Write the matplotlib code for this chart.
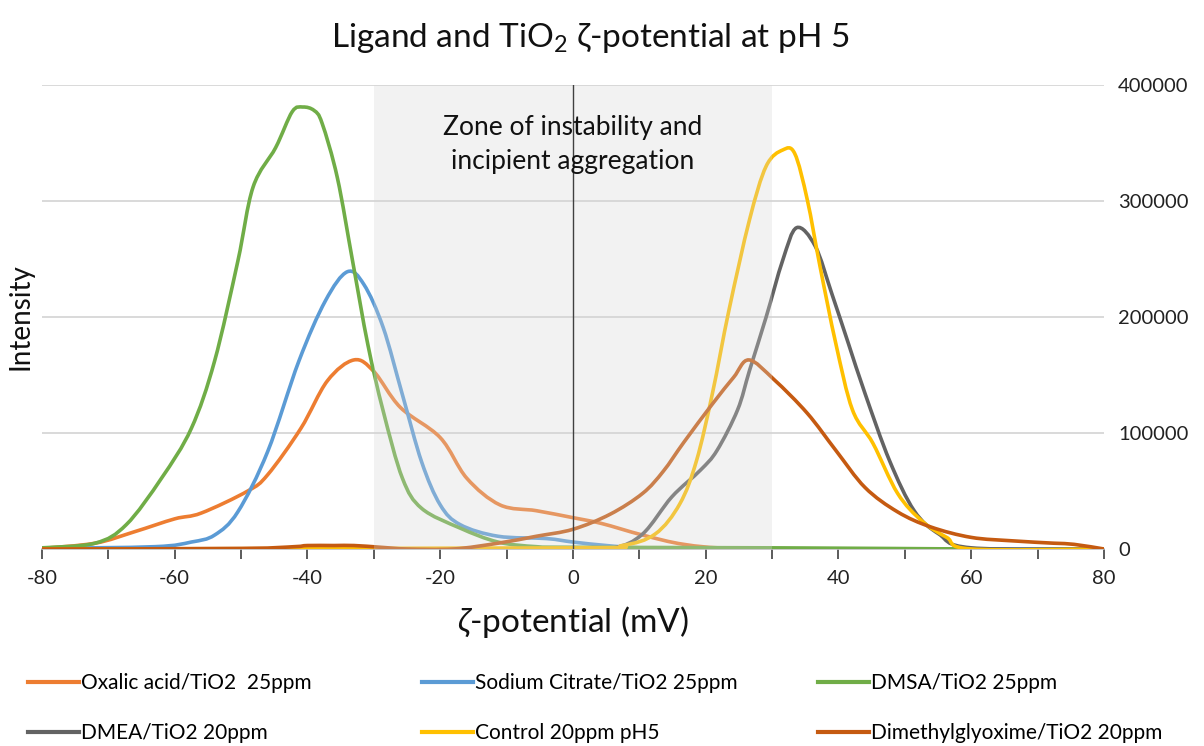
import numpy as np
import matplotlib
matplotlib.use('Agg')
import matplotlib.pyplot as plt
from matplotlib.path import Path
from matplotlib.patches import PathPatch, Rectangle
from matplotlib.lines import Line2D

# ---------------- data ----------------
series_names = ["Oxalic acid/TiO2  25ppm", "Sodium Citrate/TiO2 25ppm", "DMSA/TiO2 25ppm",
                "DMEA/TiO2 20ppm", "Control 20ppm pH5", "Dimethylglyoxime/TiO2 20ppm"]
series_colors = ["#ED7D31", "#5B9BD5", "#70AD47", "#636363", "#FFC000", "#C55A11"]

oxalic_x = [-80, -72, -66, -60, -56, -49, -46, -41, -37, -33, -30, -26, -20, -16, -11, -5.5, 0, 4.3, 10.5, 16.7, 24, 40, 60, 80]
oxalic_y = [500, 5000, 15000, 26000, 31000, 50000, 64000, 104000, 145000, 163000, 153000, 122000, 96000, 61000, 38000, 33000, 27000, 22000, 12000, 4000, 500, 0, 0, 0]

citrate_x = [-80, -63, -57.5, -54, -50.5, -46, -41.3, -37.3, -34, -31.5, -28.6, -25.7, -22.8, -20, -17, -11.3, -4, 0, 5, 10, 20, 80]
citrate_y = [500, 2000, 6000, 12000, 32000, 84000, 162000, 214000, 239000, 228000, 191000, 133000, 75000, 38000, 21000, 11000, 9000, 6000, 3000, 1000, 0, 0]

dmsa_x = [-80, -72, -67.3, -62, -57.5, -54, -50.5, -48.2, -44.8, -42.3, -40.7, -39, -37.8, -35.5, -33.2, -30.9, -28.6, -25.7, -22.8, -17, -11.3, -5.5, 0, 30, 60]
dmsa_y = [1000, 5000, 21000, 61000, 104000, 162000, 248000, 312000, 346000, 377000, 381000, 378000, 367000, 320000, 248000, 176000, 119000, 61000, 35000, 18000, 6000, 2000, 1500, 1000, 0]

dmea_x = [-80, 0, 6.2, 10.5, 14.9, 19.2, 21.7, 24.8, 26.6, 29.1, 31.6, 33.7, 36.5, 39, 41.5, 44, 47.7, 51.4, 55.1, 60, 80]
dmea_y = [0, 0, 1000, 13000, 45000, 68000, 85000, 120000, 154000, 200000, 249000, 277000, 261000, 220000, 177000, 134000, 76000, 33000, 13000, 1000, 0]

control_x = [-80, 0, 7.4, 12.4, 16.1, 18.6, 21, 23.5, 26.6, 29.1, 31.6, 33.4, 35.3, 37.2, 39.6, 42.1, 45.2, 48.9, 52.6, 56.3, 60, 80]
control_y = [0, 1000, 3000, 13000, 39000, 76000, 134000, 206000, 284000, 330000, 344000, 341000, 301000, 244000, 177000, 120000, 91000, 48000, 24000, 10000, 0, 0]

dmg_x = [-80, -50, -42, -40, -36, -33, -29, -25, -18, -11.3, -5.5, 0, 5.6, 10.5, 13.6, 16.7, 21, 24.2, 26.5, 30.3, 35.3, 39.6, 44, 48.9, 53.9, 60, 66.3, 72.4, 75.5, 80]
dmg_y = [0, 500, 2000, 3000, 3000, 3000, 1500, 0, 0, 5000, 11000, 17000, 30000, 48000, 67000, 92000, 125000, 148000, 163000, 146000, 117000, 85000, 53000, 32000, 19000, 10000, 7000, 5000, 4000, 0]

x_ticks = [-80, -70, -60, -50, -40, -30, -20, -10, 0, 10, 20, 30, 40, 50, 60, 70, 80]
x_ticklabels = ["-80", "", "-60", "", "-40", "", "-20", "", "0", "", "20", "", "40", "", "60", "", "80"]
y_ticks = [0, 100000, 200000, 300000, 400000]
zone_range = [-30, 30]

# ---------------- style ----------------
plt.rcParams['font.family'] = ['Lato', 'DejaVu Sans']
plt.rcParams['mathtext.fontset'] = 'custom'
plt.rcParams['mathtext.rm'] = 'Lato'
plt.rcParams['mathtext.it'] = 'Lato:italic'
plt.rcParams['mathtext.fallback'] = 'stix'

fig = plt.figure(figsize=(12.04, 7.46), dpi=100)
ax = fig.add_axes([42 / 1204, 1 - 549 / 746, (1104 - 42) / 1204, (549 - 85) / 746])


def smooth_path(xs, ys):
    """Excel-like smoothed line: Catmull-Rom segments as cubic Bezier path."""
    P = np.column_stack([xs, ys]).astype(float)
    n = len(P)
    verts = [P[0]]
    codes = [Path.MOVETO]
    for i in range(n - 1):
        p0 = P[i - 1] if i > 0 else P[i]
        p1 = P[i]
        p2 = P[i + 1]
        p3 = P[i + 2] if i + 2 < n else P[i + 1]
        c1 = p1 + (p2 - p0) / 6.0
        c2 = p2 - (p3 - p1) / 6.0
        verts += [c1, c2, p2]
        codes += [Path.CURVE4] * 3
    return Path(verts, codes)


all_series = [(oxalic_x, oxalic_y), (citrate_x, citrate_y), (dmsa_x, dmsa_y),
              (dmea_x, dmea_y), (control_x, control_y), (dmg_x, dmg_y)]

for (xs, ys), col in zip(all_series, series_colors):
    patch = PathPatch(smooth_path(xs, ys), facecolor='none', edgecolor=col, lw=2.6,
                      zorder=3, capstyle='round', joinstyle='round')
    ax.add_patch(patch)

# gridlines
for yv in y_ticks[1:]:
    ax.axhline(yv, color='#D9D9D9', lw=1.4, zorder=1)

# zone of instability (semi-transparent overlay)
ax.add_patch(Rectangle((zone_range[0], 0), zone_range[1] - zone_range[0], 400000,
                       facecolor='#D6D6D6', alpha=0.30, edgecolor='none', zorder=4))
ax.plot([0, 0], [0, 400000], color='#404040', lw=1.0, zorder=5)
ax.text(0, 348500, "Zone of instability and\nincipient aggregation", ha='center', va='center',
        fontsize=19, linespacing=1.45, color='#111111', zorder=6)

ax.set_xlim(-80, 80)
ax.set_ylim(0, 400000)
ax.set_xticks(x_ticks)
ax.set_xticklabels(x_ticklabels, fontsize=14.5, color='#222222')
ax.set_yticks(y_ticks)
ax.set_yticklabels([str(v) for v in y_ticks], fontsize=14.5, color='#222222')
ax.yaxis.tick_right()
ax.tick_params(axis='y', length=0, pad=10)
ax.tick_params(axis='x', direction='out', length=7, width=1.2, color='#404040', pad=8)
for s in ['top', 'left', 'right']:
    ax.spines[s].set_visible(False)
ax.spines['bottom'].set_color('#BFBFBF')
ax.spines['bottom'].set_linewidth(1.2)
ax.spines['bottom'].set_zorder(2)

fig.text(573 / 1204, 1 - 622 / 746, r"$\it{ζ}$-potential (mV)", ha='center', va='center',
         fontsize=24, color='#111111')
fig.text(20 / 1204, 1 - 317 / 746, "Intensity", rotation=90, ha='center', va='center',
         fontsize=20, color='#111111')
fig.text(590 / 1204, 1 - 38 / 746, r"Ligand and TiO$_2$ ζ-potential at pH 5", ha='center',
         va='center', fontsize=24, color='#111111')

# legend (one entry per slot, 3 columns x 2 rows)
legend_slots = [(28, 683), (422, 683), (818, 683), (28, 733), (422, 733), (818, 733)]
for name, col, (lx, ly) in zip(series_names, series_colors, legend_slots):
    h = Line2D([], [], color=col, lw=3)
    fig.legend(handles=[h], labels=[name], loc='center left',
               bbox_to_anchor=(lx / 1204, 1 - ly / 746), frameon=False,
               borderpad=0, borderaxespad=0, handlelength=2.45, handletextpad=0.1,
               prop={'family': ['Lato', 'DejaVu Sans'], 'size': 15})

fig.savefig('out.png', dpi=100)
